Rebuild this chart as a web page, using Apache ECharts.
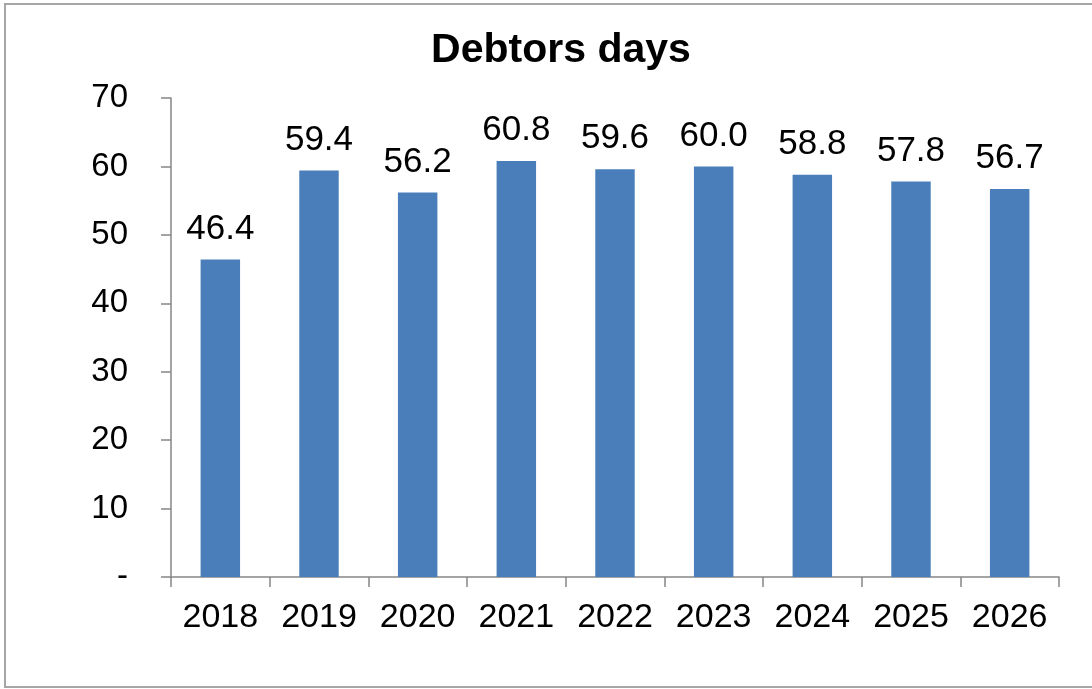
<!DOCTYPE html>
<html>
<head>
<meta charset="utf-8">
<style>
  html, body { margin: 0; padding: 0; background: #ffffff; }
  #chart { width: 1092px; height: 689px; }
</style>
<script src="https://cdn.jsdelivr.net/npm/echarts@6/dist/echarts.min.js"></script>
</head>
<body>
<div id="chart"></div>
<script>
// Debtors days by year
const years = ['2018', '2019', '2020', '2021', '2022', '2023', '2024', '2025', '2026'];
const debtorsDays = [46.4, 59.4, 56.2, 60.8, 59.6, 60.0, 58.8, 57.8, 56.7];
const yTickValues = [0, 10, 20, 30, 40, 50, 60, 70];

const FONT = '"Liberation Sans", Arial, sans-serif';
const chart = echarts.init(document.getElementById('chart'));

chart.setOption({
  backgroundColor: '#ffffff',
  animation: false,
  graphic: [{
    type: 'rect',
    shape: { x: 5, y: 4, width: 1095, height: 683 },
    style: { fill: 'none', stroke: '#a6a6a6', lineWidth: 2 },
    silent: true
  }],
  title: {
    text: 'Debtors days',
    left: 556,
    top: 25,
    textAlign: 'center',
    textStyle: { fontFamily: FONT, fontSize: 41, fontWeight: 'bold', color: '#000000' }
  },
  grid: { left: 171, right: 33, top: 98, bottom: 112, containLabel: false },
  xAxis: {
    type: 'category',
    data: years,
    axisLine: { lineStyle: { color: '#868686', width: 1.5 } },
    axisTick: { show: true, length: 10, alignWithLabel: false, lineStyle: { color: '#868686', width: 1.5 } },
    axisLabel: { fontFamily: FONT, fontSize: 34, color: '#000000', margin: 24 }
  },
  yAxis: {
    type: 'value',
    min: yTickValues[0],
    max: yTickValues[yTickValues.length - 1],
    interval: 10,
    splitLine: { show: false },
    axisLine: { show: true, lineStyle: { color: '#868686', width: 1.5 } },
    axisTick: { show: true, length: 10, lineStyle: { color: '#868686', width: 1.5 } },
    axisLabel: {
      fontFamily: FONT, fontSize: 33, color: '#000000', margin: 43,
      formatter: v => (v === 0 ? '-' : String(v))
    }
  },
  series: [{
    type: 'bar',
    data: debtorsDays,
    barWidth: '40%',
    itemStyle: { color: '#4a7ebb' },
    label: {
      show: true,
      position: 'top',
      distance: 13,
      fontFamily: FONT,
      fontSize: 35,
      color: '#000000',
      formatter: p => p.value.toFixed(1)
    }
  }]
});
</script>
</body>
</html>
